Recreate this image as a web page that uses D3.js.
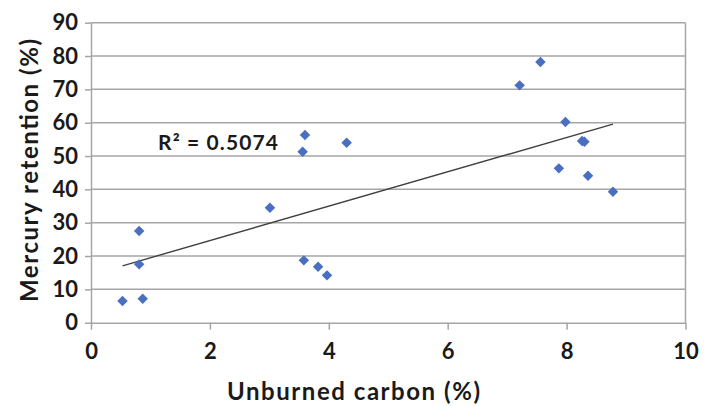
<!DOCTYPE html>
<html><head><meta charset="utf-8">
<script src="https://cdn.jsdelivr.net/npm/d3@7"></script>
<style>body{margin:0;background:#fff}svg{display:block}text{font-family:Lato,"Open Sans",sans-serif;font-weight:bold;fill:#1a1a1a}</style>
</head><body><svg id="c" width="704" height="406"></svg>
<script>
const unburnedCarbon = [0.53,0.81,0.81,0.87,3.01,3.58,3.82,3.97,3.60,3.56,4.30,7.56,7.21,7.98,8.26,8.30,7.87,8.36,8.78];
const mercuryRetention = [6.5,27.5,17.5,7.2,34.5,18.7,16.8,14.2,56.3,51.3,54.0,78.2,71.2,60.2,54.5,54.3,46.3,44.1,39.3];
const xTicks = [0,2,4,6,8,10];
const yTicks = [0,10,20,30,40,50,60,70,80,90];
const r2Label = "R² = 0.5074";
const xTitle = "Unburned carbon (%)";
const yTitle = "Mercury retention (%)";

const svg = d3.select("#c");
const x = d3.scaleLinear().domain([0,10]).range([91,685.5]);
const y = d3.scaleLinear().domain([0,90]).range([322.7,22.7]);
const grid = "#a6a6a6";

// gridlines
svg.append("g").selectAll("line").data(yTicks.filter(d=>d>0)).join("line")
  .attr("x1",x(0)).attr("x2",x(10)).attr("y1",d=>y(d)).attr("y2",d=>y(d))
  .attr("stroke",grid).attr("stroke-width",1.5);
// right border
svg.append("line").attr("x1",x(10)).attr("x2",x(10)).attr("y1",y(90)).attr("y2",y(0))
  .attr("stroke",grid).attr("stroke-width",1.5);

// axes
const xAxis = d3.axisBottom(x).tickValues(xTicks).tickSize(7).tickPadding(14).tickSizeOuter(0);
const gx = svg.append("g").attr("transform",`translate(0,${y(0)})`).call(xAxis);
gx.select(".domain").attr("stroke",grid).attr("stroke-width",1.5);
gx.selectAll(".tick line").attr("stroke",grid).attr("stroke-width",1.5);
gx.selectAll(".tick text").style("font-size","22px").attr("fill","#1a1a1a");

const yAxis = d3.axisLeft(y).tickValues(yTicks).tickSize(6).tickPadding(7).tickSizeOuter(0);
const gy = svg.append("g").attr("transform",`translate(${x(0)},0)`).call(yAxis);
gy.select(".domain").attr("stroke",grid).attr("stroke-width",1.5);
gy.selectAll(".tick line").attr("stroke",grid).attr("stroke-width",1.5);
gy.selectAll(".tick text").style("font-size","22px").attr("fill","#1a1a1a");

// regression
const n = unburnedCarbon.length;
const mx = d3.mean(unburnedCarbon), my = d3.mean(mercuryRetention);
let sxy=0,sxx=0;
for(let i=0;i<n;i++){sxy+=(unburnedCarbon[i]-mx)*(mercuryRetention[i]-my);sxx+=(unburnedCarbon[i]-mx)**2;}
const b = sxy/sxx, a = my-b*mx;
const [xmin,xmax] = d3.extent(unburnedCarbon);
svg.append("line").attr("x1",x(xmin)).attr("y1",y(a+b*xmin)).attr("x2",x(xmax)).attr("y2",y(a+b*xmax))
  .attr("stroke","#404040").attr("stroke-width",1.4);

// points
const sym = d3.symbol().type(d3.symbolDiamond2).size(70);
svg.append("g").selectAll("path").data(unburnedCarbon.map((v,i)=>[v,mercuryRetention[i]])).join("path")
  .attr("d",sym).attr("transform",d=>`translate(${x(d[0])},${y(d[1])})`).attr("fill","#4a6ec0");

// R2 label
svg.append("text").attr("x",158).attr("y",143).attr("dy","0.35em").style("font-size","21px")
  .attr("textLength",120).attr("lengthAdjust","spacing").text(r2Label);

// titles
svg.append("text").attr("x",227).attr("y",400).style("font-size","24px")
  .attr("textLength",253).attr("lengthAdjust","spacing").text(xTitle);
svg.append("text").attr("transform","translate(38,302) rotate(-90)").style("font-size","24px")
  .attr("textLength",263).attr("lengthAdjust","spacing").text(yTitle);
</script></body></html>
